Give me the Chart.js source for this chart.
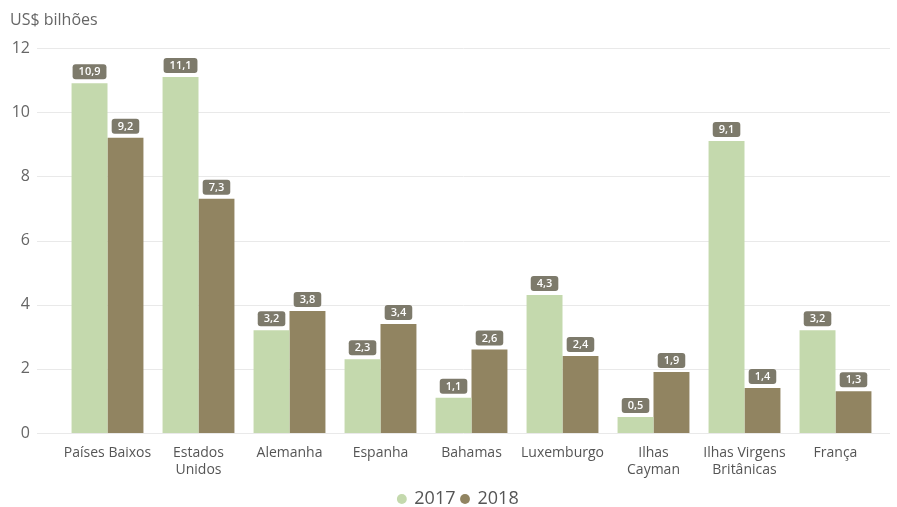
<!DOCTYPE html>
<html>
<head>
<meta charset="utf-8">
<script src="https://cdn.jsdelivr.net/npm/chart.js@4/dist/chart.umd.min.js"></script>
<style>
  html, body { margin: 0; padding: 0; background: #fff; }
  #wrap { width: 897px; height: 507px; position: relative; }
</style>
</head>
<body>
<div id="wrap"><canvas id="chart"></canvas></div>
<script>
const categories = [
  'Países Baixos', ['Estados', 'Unidos'], 'Alemanha', 'Espanha', 'Bahamas',
  'Luxemburgo', ['Ilhas', 'Cayman'], ['Ilhas Virgens', 'Britânicas'], 'França'
];
const values2017 = [10.9, 11.1, 3.2, 2.3, 1.1, 4.3, 0.5, 9.1, 3.2];
const values2018 = [9.2, 7.3, 3.8, 3.4, 2.6, 2.4, 1.9, 1.4, 1.3];
const yTicks = [0, 2, 4, 6, 8, 10, 12];
const unitLabel = 'US$ bilhões';

const FONT = "'Open Sans', 'Noto Sans', sans-serif";
const fmt = v => v.toFixed(1).replace('.', ',');

// unit caption in the top-left corner
const unitCaption = {
  id: 'unitCaption',
  afterDraw(chart) {
    const { ctx } = chart;
    ctx.save();
    ctx.font = '16px ' + FONT;
    ctx.fillStyle = '#666';
    ctx.textAlign = 'left';
    ctx.textBaseline = 'middle';
    ctx.fillText(unitLabel, 10, 20);
    ctx.restore();
  }
};

// nudge the legend right so it centres under the plot rather than the canvas
const legendShift = {
  id: 'legendShift',
  afterLayout(chart) {
    if (chart.legend) {
      chart.legend.left += 18;
      chart.legend.right += 18;
    }
  }
};

// horizontal grid lines run wider than the category band
const gridLines = {
  id: 'gridLines',
  beforeDatasetsDraw(chart) {
    const { ctx } = chart;
    const y = chart.scales.y;
    ctx.save();
    ctx.strokeStyle = '#e9e9e9';
    ctx.lineWidth = 1;
    yTicks.forEach(t => {
      const py = Math.round(y.getPixelForValue(t)) + 0.5;
      ctx.beginPath();
      ctx.moveTo(37, py);
      ctx.lineTo(890, py);
      ctx.stroke();
    });
    ctx.restore();
  }
};

// value badges above each bar
const valueBadges = {
  id: 'valueBadges',
  afterDatasetsDraw(chart) {
    const { ctx } = chart;
    ctx.save();
    ctx.font = '600 11px ' + FONT;
    ctx.textAlign = 'center';
    ctx.textBaseline = 'middle';
    chart.data.datasets.forEach((ds, di) => {
      chart.getDatasetMeta(di).data.forEach((bar, i) => {
        const txt = fmt(ds.data[i]);
        const w = ctx.measureText(txt).width + 12;
        const h = 15;
        const x = bar.x - w / 2;
        const y = bar.y - 4 - h;
        ctx.fillStyle = '#7d7a6b';
        ctx.beginPath();
        ctx.roundRect(x, y, w, h, 3);
        ctx.fill();
        ctx.fillStyle = '#ffffff';
        ctx.fillText(txt, bar.x, y + h / 2 + 0.5);
      });
    });
    ctx.restore();
  }
};

new Chart(document.getElementById('chart'), {
  type: 'bar',
  data: {
    labels: categories,
    datasets: [
      { label: '2017', data: values2017, backgroundColor: '#c4d9ad', barPercentage: 1, categoryPercentage: 0.79 },
      { label: '2018', data: values2018, backgroundColor: '#918461', barPercentage: 1, categoryPercentage: 0.79 }
    ]
  },
  options: {
    responsive: true,
    maintainAspectRatio: false,
    animation: false,
    layout: { padding: { left: 0, right: 16, top: 48, bottom: -11 } },
    plugins: {
      title: { display: false },
      legend: {
        position: 'bottom',
        labels: {
          usePointStyle: true,
          pointStyle: 'circle',
          boxWidth: 7,
          boxHeight: 7,
          padding: 6,
          color: '#555',
          font: { family: FONT, size: 18 }
        }
      },
      tooltip: { enabled: false }
    },
    scales: {
      x: {
        afterFit(scale) { scale.height = 51; },
        grid: { display: false, drawTicks: false },
        border: { display: false },
        ticks: {
          color: '#555',
          font: { family: FONT, size: 14 },
          padding: 12,
          maxRotation: 0,
          autoSkip: false
        }
      },
      y: {
        min: 0,
        max: 12,
        afterFit(scale) { scale.width = 62; },
        afterBuildTicks(scale) { scale.ticks = yTicks.map(v => ({ value: v })); },
        grid: { display: false, drawTicks: false },
        border: { display: false },
        ticks: {
          color: '#666',
          font: { family: FONT, size: 16 },
          padding: 32
        }
      }
    }
  },
  plugins: [legendShift, gridLines, valueBadges, unitCaption]
});
</script>
</body>
</html>
